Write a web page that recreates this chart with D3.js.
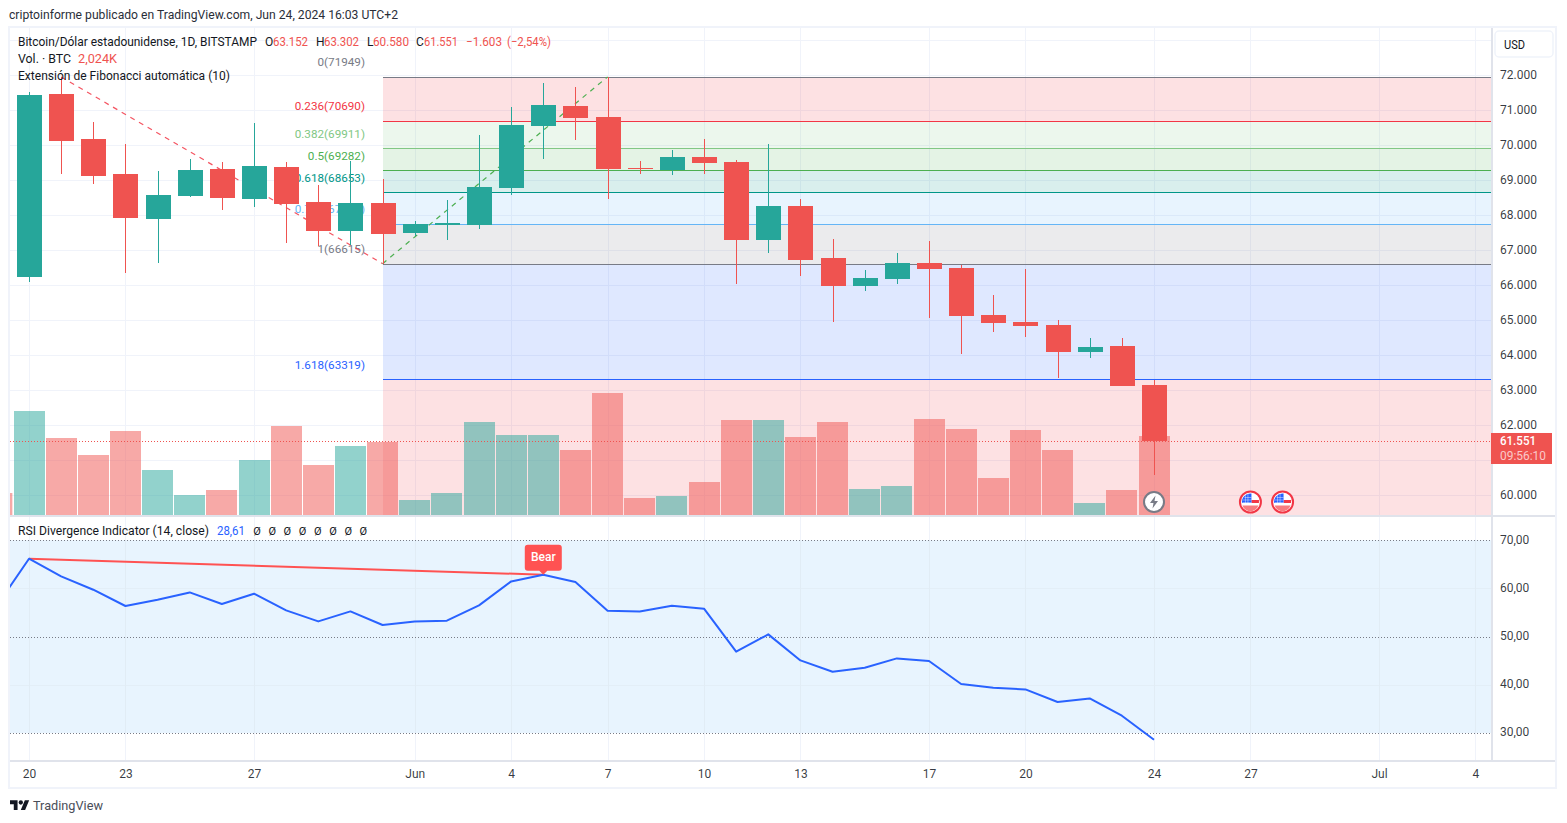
<!DOCTYPE html>
<html><head><meta charset="utf-8">
<script src="https://cdn.jsdelivr.net/npm/d3@7"></script>
<style>html,body{margin:0;padding:0;background:#fff}svg{display:block}text{font-family:Roboto,"Noto Sans",sans-serif}</style>
</head><body><svg id="c" width="1567" height="823"></svg>
<script>
// ---- data ----
const opens  = [66244,71461,70176,69176,67900,68557,69319,68471,69376,68377,67557,68348,67500,67720,67720,68777,70547,71118,70804,69348,69291,69662,69519,67292,68263,66778,65978,66178,66635,66492,65150,64950,64865,64094,64265,63152];
const highs  = [71509,71946,70661,70033,69262,69605,69519,70633,69519,68862,69548,69034,67834,68434,70290,71090,71775,71661,71949,69548,69862,70176,69576,70033,68463,67320,66435,66921,67263,66578,65721,66464,65007,64493,64493,63302];
const lows   = [66092,69185,68899,66358,66644,68528,68157,68243,67215,67129,67158,66615,67406,67300,67606,68585,69613,70147,68471,69176,69148,69176,66036,66921,66264,64950,65835,66036,65064,64037,64665,64522,63351,63922,63123,60580];
const closes = [71432,70127,69128,67929,68577,69291,68500,69405,68328,67557,68348,67472,67749,67777,68805,70576,71147,70775,69319,69319,69662,69490,67292,68263,66721,65978,66207,66635,66464,65121,64922,64836,64094,64236,63123,61551];
const volumes = [2665,1974,1538,2154,1154,513,641,1410,2282,1282,1769,1872,385,564,2384,2051,2051,1666,3128,436,487,846,2435,2435,2000,2384,667,744,2461,2205,949,2179,1666,308,641,2024];
const prevVolume = 563;
const rsiPrev = 56.4;
const rsi = [66.16,62.49,59.73,56.35,57.66,59.17,56.76,58.90,55.44,53.15,55.23,52.41,53.15,53.30,56.47,61.45,62.84,61.33,55.37,55.23,56.41,55.79,46.87,50.46,45.06,42.72,43.55,45.48,44.94,40.17,39.40,39.05,36.43,37.18,33.59,28.61];
const fibRatios = ["0","0.236","0.382","0.5","0.618","0.786","1","1.618","2.618"];
const fibPrices = [71949,70690,69911,69282,68653,67757,66615,63319,57985];
const fibColors = ["#787b86","#f23645","#81c784","#4caf50","#009688","#64b5f6","#787b86","#2962ff","#f23645"];
const zoneColors = ["#f23645","#81c784","#4caf50","#009688","#64b5f6","#787b86","#2962ff","#f23645"];
const priceTicks = [72000,71000,70000,69000,68000,67000,66000,65000,64000,63000,62000,60000];
const priceGrid = [73000,72000,71000,70000,69000,68000,67000,66000,65000,64000,63000,62000,61000,60000];
const rsiTicks = [70,60,50,40,30];
const rsiDotted = [70,50,30];
const timeTickDates = ["2024-05-20","2024-05-23","2024-05-27","2024-06-01","2024-06-04","2024-06-07","2024-06-10","2024-06-13","2024-06-17","2024-06-20","2024-06-24","2024-06-27","2024-07-01","2024-07-04"];
const timeTickLabels = ["20","23","27","Jun","4","7","10","13","17","20","24","27","Jul","4"];
const flagDates = ["2024-06-27","2024-06-28"];

const GREEN="#26a69a", RED="#ef5350", INK="#131722";
const pane={l:10,r:1491,t:28,b:515}, rsiPane={t:516,b:760};
const svg=d3.select("#c");
const loc=d3.formatLocale({decimal:",",thousands:".",grouping:[3],currency:["",""]});
const dates=d3.utcDay.range(new Date(Date.UTC(2024,4,20)),new Date(Date.UTC(2024,5,25)));
const x=d3.scaleUtc().domain([dates[0],dates[35]]).range([29,1154]);
const y=d3.scaleLinear().domain([60000,72000]).range([495.3,75.1]);
const yv=d3.scaleLinear().domain([0,2560]).range([515,415]);
const yr=d3.scaleLinear().domain([30,70]).range([733,540.2]);
const px=v=>Math.round(v)+.5;

const defs=svg.append("defs");
defs.append("clipPath").attr("id","cm").append("rect").attr("x",pane.l).attr("y",pane.t).attr("width",pane.r-pane.l).attr("height",pane.b-pane.t);
defs.append("clipPath").attr("id","cr").append("rect").attr("x",pane.l).attr("y",rsiPane.t).attr("width",pane.r-pane.l).attr("height",rsiPane.b-rsiPane.t);

function txt(g,xp,yp,s,o={}){const t=g.append("text").attr("x",xp).attr("y",yp).attr("dominant-baseline","central")
  .attr("font-size",o.size||12).attr("fill",o.fill||INK).attr("text-anchor",o.anchor||"start").attr("font-weight",o.weight||400).text(s);
  if(o.w){t.attr("textLength",o.w).attr("lengthAdjust","spacingAndGlyphs");} return t;}

// ---- grid ----
const grid=svg.append("g").attr("stroke","#f0f3fa").attr("stroke-width",1).attr("shape-rendering","crispEdges");
const tickDates=timeTickDates.map(d=>new Date(d+"T00:00:00Z"));
grid.selectAll(".v").data(tickDates).join("line").attr("x1",d=>px(x(d))).attr("x2",d=>px(x(d))).attr("y1",pane.t).attr("y2",rsiPane.b);
const mg=svg.append("g").attr("clip-path","url(#cm)");
mg.append("g").attr("stroke","#f0f3fa").attr("shape-rendering","crispEdges").selectAll("line").data(priceGrid).join("line")
  .attr("x1",pane.l).attr("x2",pane.r).attr("y1",d=>px(y(d))).attr("y2",d=>px(y(d)));

// ---- fib zones ----
const fx0=x(dates[11]);
const zones=d3.range(fibPrices.length-1).map(i=>({a:fibPrices[i],b:fibPrices[i+1]}));
mg.append("g").attr("shape-rendering","crispEdges").selectAll("rect").data(zones).join("rect")
  .attr("x",fx0).attr("width",pane.r-fx0).attr("y",d=>y(d.a)).attr("height",d=>y(d.b)-y(d.a))
  .attr("fill",(d,i)=>zoneColors[i]).attr("fill-opacity",.15);

// ---- volume ----
const isUp=i=>closes[i]>=opens[i];
mg.append("rect").attr("x",x(d3.utcDay.offset(dates[0],-1))-15.5).attr("width",31).attr("y",yv(prevVolume)).attr("height",515-yv(prevVolume)).attr("fill",RED).attr("fill-opacity",.5);
mg.append("g").attr("shape-rendering","crispEdges").selectAll("rect").data(volumes).join("rect")
  .attr("x",(d,i)=>x(dates[i])-15.5).attr("width",31).attr("y",d=>yv(d)).attr("height",d=>515-yv(d))
  .attr("fill",(d,i)=>isUp(i)?GREEN:RED).attr("fill-opacity",.5);

// ---- fib lines and labels ----
mg.append("g").attr("shape-rendering","crispEdges").selectAll("line").data(fibPrices).join("line")
  .attr("x1",fx0).attr("x2",pane.r).attr("y1",d=>px(y(d))).attr("y2",d=>px(y(d))).attr("stroke",(d,i)=>fibColors[i]);
fibPrices.forEach((p,i)=>{ if(p>60000) txt(mg,365,y(p)-14.5,fibRatios[i]+"("+p+")",{anchor:"end",fill:fibColors[i],size:11.7}); });

// ---- trend dashes ----
const line=d3.line().x(d=>x(d.d)).y(d=>y(d.p));
mg.append("path").attr("d",line([{d:dates[1],p:highs[1]},{d:dates[11],p:lows[11]}])).attr("fill","none").attr("stroke","#f23645").attr("stroke-opacity",.85).attr("stroke-width",1.2).attr("stroke-dasharray","5 5");
mg.append("path").attr("d",line([{d:dates[11],p:lows[11]},{d:dates[18],p:highs[18]}])).attr("fill","none").attr("stroke","#4caf50").attr("stroke-width",1.2).attr("stroke-dasharray","5 5");

// ---- current price dotted ----
const last=closes[closes.length-1];
mg.append("line").attr("x1",pane.l).attr("x2",pane.r).attr("y1",px(y(last))).attr("y2",px(y(last))).attr("stroke",RED).attr("stroke-dasharray","1 2");

// ---- candles ----
const cg=mg.append("g").attr("shape-rendering","crispEdges");
cg.selectAll(".w").data(dates).join("line").attr("x1",d=>px(x(d))).attr("x2",d=>px(x(d)))
  .attr("y1",(d,i)=>y(highs[i])).attr("y2",(d,i)=>y(lows[i])).attr("stroke",(d,i)=>isUp(i)?GREEN:RED);
cg.selectAll(".b").data(dates).join("rect").attr("x",d=>Math.round(x(d))-12).attr("width",25)
  .attr("y",(d,i)=>y(Math.max(opens[i],closes[i]))).attr("height",(d,i)=>Math.max(1,y(Math.min(opens[i],closes[i]))-y(Math.max(opens[i],closes[i]))))
  .attr("fill",(d,i)=>isUp(i)?GREEN:RED);

// ---- event icons ----
const iconY=502;
const bolt=mg.append("g").attr("transform",`translate(${x(dates[35])},${iconY})`);
bolt.append("circle").attr("r",10).attr("fill","#fff").attr("stroke","#787b86").attr("stroke-width",2);
bolt.append("path").attr("d","M1.5-6.5L-4 1H-.5L-1.5 6.5L4-1H.5Z").attr("fill","#787b86");
flagDates.forEach(f=>{const g=mg.append("g").attr("transform",`translate(${x(new Date(f+"T00:00:00Z"))},${iconY})`);
  g.append("circle").attr("r",10.5).attr("fill","#fff").attr("stroke","#f23645").attr("stroke-width",2);
  g.append("path").attr("d","M-8 3.5H8A8.5 8.5 0 0 1 -8 3.5Z").attr("fill","#f77c80");
  g.append("rect").attr("x",1).attr("y",-2).attr("width",7.5).attr("height",3).attr("fill","#f23645");
  g.append("path").attr("d","M1-8.5V1H-8.5A8.5 8.5 0 0 1 1-8.5Z").attr("fill","#2962ff");
  g.append("path").attr("d","M-6-4.5H1M-8-2H1M-8 .5H1M-5-8V1M-2.5-8.5V1").attr("stroke","#fff").attr("stroke-width",.6).attr("stroke-opacity",.7);
});

// ---- RSI pane ----
const rg=svg.append("g").attr("clip-path","url(#cr)");
rg.append("rect").attr("x",pane.l).attr("width",pane.r-pane.l).attr("y",yr(70)).attr("height",yr(30)-yr(70)).attr("fill","#2196f3").attr("fill-opacity",.1);
rg.append("g").attr("stroke","#e3eef7").attr("shape-rendering","crispEdges").selectAll("line").data(rsiTicks.filter(v=>!rsiDotted.includes(v))).join("line")
  .attr("x1",pane.l).attr("x2",pane.r).attr("y1",d=>px(yr(d))).attr("y2",d=>px(yr(d)));
rg.append("g").attr("stroke","#e1ecf5").attr("shape-rendering","crispEdges").selectAll("line").data(tickDates).join("line")
  .attr("x1",d=>px(x(d))).attr("x2",d=>px(x(d))).attr("y1",yr(70)).attr("y2",yr(30));
rg.append("g").attr("stroke","#787b86").attr("stroke-dasharray","1 2").selectAll("line").data(rsiDotted).join("line")
  .attr("x1",pane.l).attr("x2",pane.r).attr("y1",d=>px(yr(d))).attr("y2",d=>px(yr(d)));
const rl=d3.line().x(d=>x(d.d)).y(d=>yr(d.v));
const rsiData=[{d:d3.utcDay.offset(dates[0],-1),v:rsiPrev}].concat(rsi.map((v,i)=>({d:dates[i],v})));
rg.append("path").attr("d",rl([{d:dates[0],v:rsi[0]},{d:dates[16],v:rsi[16]}])).attr("fill","none").attr("stroke","#ff5252").attr("stroke-width",2);
rg.append("path").attr("d",rl(rsiData)).attr("fill","none").attr("stroke","#2962ff").attr("stroke-width",2).attr("stroke-linejoin","round");
const bx=x(dates[16]), by=yr(rsi[16]);
rg.append("path").attr("d",`M${bx-18.5} ${by-27}a3 3 0 0 1 3-3h31a3 3 0 0 1 3 3v20a3 3 0 0 1-3 3h-11.5l-4 4l-4-4h-11.5a3 3 0 0 1-3-3Z`).attr("fill","#ff5252");
txt(rg,bx,by-18,"Bear",{anchor:"middle",fill:"#fff",weight:500});

// ---- frames ----
const fr=svg.append("g").attr("fill","none").attr("shape-rendering","crispEdges");
fr.append("rect").attr("x",9).attr("y",27).attr("width",1547).attr("height",761).attr("stroke","#f0f3fa").attr("stroke-width",2);
fr.append("line").attr("x1",pane.l).attr("x2",1555).attr("y1",515.5).attr("y2",515.5).attr("stroke","#e0e3eb").attr("stroke-width",2);
fr.append("line").attr("x1",pane.l).attr("x2",1555).attr("y1",760.5).attr("y2",760.5).attr("stroke","#e0e3eb").attr("stroke-width",2);
fr.append("line").attr("x1",1491.5).attr("x2",1491.5).attr("y1",28).attr("y2",760).attr("stroke","#e0e3eb").attr("stroke-width",2);

// ---- axes ----
function styleAxis(g){g.select(".domain").remove();g.selectAll("line").remove();g.selectAll("text").attr("fill",INK).attr("font-size",12).attr("fill-opacity",.85).attr("font-family","Roboto");}
svg.append("g").attr("transform","translate(1491,-0.4)").call(d3.axisRight(y).tickValues(priceTicks).tickFormat(loc.format(",")).tickSize(0).tickPadding(9)).call(styleAxis);
svg.append("g").attr("transform","translate(1491,-1)").call(d3.axisRight(yr).tickValues(rsiTicks).tickFormat(loc.format(",.2f")).tickSize(0).tickPadding(9)).call(styleAxis);
svg.append("g").attr("transform","translate(0,761)").call(d3.axisBottom(x).tickValues(tickDates).tickFormat((d,i)=>timeTickLabels[i]).tickSize(0).tickPadding(8)).call(styleAxis);

// ---- currency button / price tag ----
svg.append("rect").attr("x",1495).attr("y",31).attr("width",58).attr("height",26).attr("rx",4).attr("fill","#fff").attr("stroke","#f0f3fa").attr("stroke-width",1.5);
txt(svg,1504,44.5,"USD",{w:21});
const ty=y(last);
svg.append("rect").attr("x",1491).attr("y",ty-8).attr("width",61).attr("height",31).attr("fill",RED);
txt(svg,1500,ty+.5,loc.format(",")(last),{fill:"#fff",weight:500,w:36});
txt(svg,1500,ty+15,"09:56:10",{fill:"#fff",w:46}).attr("fill-opacity",.7);

// ---- text ----
txt(svg,9,14.5,"criptoinforme publicado en TradingView.com, Jun 24, 2024 16:03 UTC+2",{w:389,fill:"#2a2e39"});
txt(svg,18,42,"Bitcoin/Dólar estadounidense, 1D, BITSTAMP",{w:239});
const ohlc=[["O",265,"63.152",273,35],["H",316,"63.302",324,35],["L",367,"60.580",373,36],["C",416,"61.551",424,34]];
ohlc.forEach(a=>{txt(svg,a[1],42,a[0]);txt(svg,a[3],42,a[2],{fill:RED,w:a[4]});});
txt(svg,466,42,"−1.603",{fill:RED,w:36});
txt(svg,507,42,"(−2,54%)",{fill:RED,w:44});
txt(svg,18,59,"Vol. · BTC",{w:53});
txt(svg,78,59,"2,024K",{fill:RED,w:39});
txt(svg,18,76,"Extensión de Fibonacci automática (10)",{w:212});
txt(svg,18,531,"RSI Divergence Indicator (14, close)",{w:191});
txt(svg,217,531,"28,61",{fill:"#2962ff",w:28});
d3.range(8).forEach(i=>txt(svg,257+i*15.2,531,"Ø",{anchor:"middle",size:11}));

// ---- logo ----
const logo=svg.append("g").attr("transform","translate(10,798.2) scale(.54)").attr("fill","#131722");
logo.append("path").attr("d","M14 22H7V11H0V4h14v18zM28 22h-8l7.5-18h8L28 22z");
logo.append("circle").attr("cx",20).attr("cy",8).attr("r",4);
txt(svg,33,805,"TradingView",{size:13.5,fill:"#4a4e59",w:70});
</script></body></html>
